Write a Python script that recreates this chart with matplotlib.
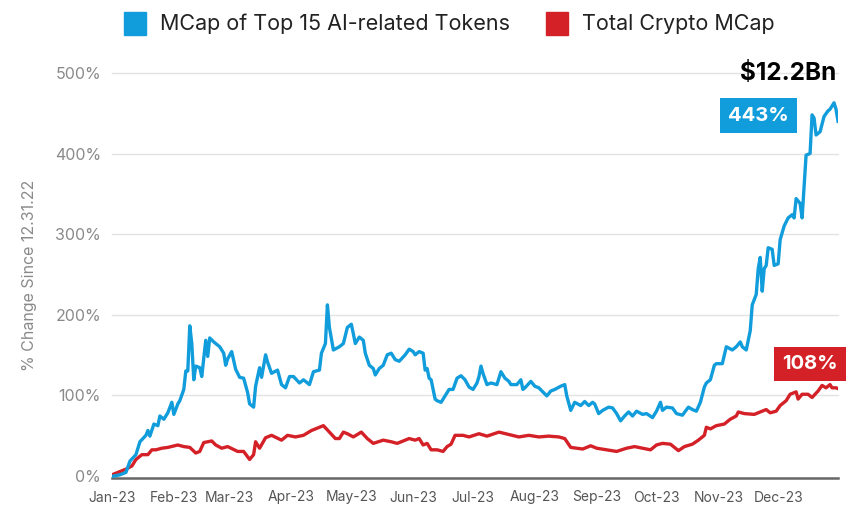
import numpy as np
import pandas as pd
import matplotlib
matplotlib.use("Agg")
import matplotlib.pyplot as plt
import matplotlib.dates as mdates
from matplotlib.patches import Rectangle

# day of 2023 (0 = Jan 1) and % change since 12.31.22
ai_days = [0, 4, 7, 9, 12, 14, 17, 18, 19, 21, 23, 24, 26, 28, 30, 31, 33, 34, 36, 37,
           38, 39, 40, 41, 42, 44, 45, 47, 48, 49, 51, 54, 56, 57, 58, 60, 62, 64, 66, 68,
           69, 71, 72, 74, 75, 77, 78, 80, 83, 85, 87, 89, 91, 94, 96, 99, 101, 104, 105, 107,
           108, 109, 111, 114, 116, 118, 120, 122, 124, 126, 127, 129, 131, 132, 134, 136, 138, 140, 142, 144,
           147, 149, 151, 152, 154, 156, 157, 158, 159, 160, 162, 163, 165, 167, 169, 171, 173, 175, 177, 179,
           181, 183, 184, 185, 186, 188, 190, 193, 195, 197, 199, 200, 203, 205, 206, 207, 210, 212, 214, 218,
           220, 222, 225, 227, 228, 230, 232, 235, 237, 239, 241, 242, 244, 246, 249, 251, 253, 255, 257, 259,
           261, 263, 266, 268, 271, 273, 275, 276, 278, 281, 283, 286, 289, 291, 293, 295, 297, 298, 300, 302,
           303, 306, 308, 311, 313, 315, 316, 318, 320, 321, 323, 324, 325, 326, 327, 328, 329, 331, 332, 334,
           335, 337, 339, 341, 342, 343, 345, 346, 347, 348, 350, 351, 352, 353, 355, 357, 359, 360, 362, 363, 364]
ai_pct = [-1, 1, 4, 18, 26, 42, 50, 56, 49, 64, 62, 74, 70, 78, 91, 76, 89, 93, 107, 130,
          130, 186, 164, 119, 136, 134, 123, 168, 148, 171, 166, 160, 152, 137, 145, 154, 132, 122, 121, 103,
          89, 85, 111, 134, 122, 150, 141, 127, 131, 113, 109, 123, 123, 115, 119, 113, 129, 131, 152, 164,
          212, 184, 156, 160, 164, 184, 188, 164, 172, 168, 152, 137, 133, 125, 133, 137, 150, 152, 144, 142,
          150, 157, 154, 150, 154, 152, 131, 133, 121, 119, 95, 93, 91, 99, 107, 107, 121, 124, 119, 110,
          107, 115, 123, 136, 127, 113, 115, 113, 129, 121, 117, 113, 113, 119, 107, 109, 117, 111, 109, 99,
          105, 107, 111, 113, 99, 81, 91, 87, 92, 87, 91, 89, 77, 81, 85, 84, 77, 68, 74, 79,
          74, 80, 76, 77, 72, 80, 91, 81, 85, 84, 77, 75, 85, 82, 80, 91, 110, 115, 119, 137,
          139, 139, 160, 156, 160, 166, 160, 156, 180, 212, 225, 257, 271, 229, 257, 261, 283, 281, 261, 263,
          293, 310, 320, 324, 320, 344, 338, 320, 358, 398, 400, 448, 444, 423, 427, 446, 453, 455, 463, 455, 440]

mkt_days = [0, 5, 7, 10, 12, 15, 18, 20, 22, 25, 28, 33, 36, 39, 42, 44, 46, 50, 52, 55,
            58, 63, 66, 69, 71, 72, 74, 77, 80, 85, 88, 92, 96, 100, 104, 106, 109, 112, 114, 116,
            118, 121, 125, 128, 131, 136, 140, 143, 146, 149, 152, 154, 156, 158, 160, 163, 166, 168, 170, 172,
            176, 179, 184, 188, 194, 199, 204, 209, 214, 219, 224, 227, 230, 233, 236, 240, 243, 248, 253, 258,
            262, 266, 270, 273, 276, 280, 284, 287, 291, 294, 297, 298, 300, 303, 307, 310, 313, 314, 317, 322,
            325, 328, 330, 333, 335, 338, 340, 343, 344, 346, 349, 351, 354, 356, 358, 360, 361, 363, 364]
mkt_pct = [1, 6, 8, 12, 20, 26, 26, 32, 32, 34, 35, 38, 36, 35, 28, 30, 41, 43, 38, 34,
           36, 30, 30, 20, 26, 42, 34, 47, 50, 44, 50, 48, 50, 56, 60, 62, 54, 46, 46, 54,
           52, 48, 54, 46, 40, 44, 42, 40, 43, 46, 44, 46, 38, 40, 32, 32, 30, 36, 39, 50,
           50, 48, 52, 49, 54, 51, 48, 50, 48, 49, 48, 46, 35, 34, 33, 37, 34, 32, 30, 34,
           36, 34, 32, 38, 40, 39, 31, 36, 39, 44, 50, 60, 58, 62, 64, 70, 74, 79, 77, 76,
           79, 82, 78, 80, 87, 93, 101, 104, 95, 101, 101, 97, 105, 112, 109, 113, 109, 109, 108]

y_ticks = [0, 100, 200, 300, 400, 500]
legend_labels = ["MCap of Top 15 AI-related Tokens", "Total Crypto MCap"]
ai_end_label = "443%"
mkt_end_label = "108%"
mcap_label = "$12.2Bn"

BLUE = "#119ddb"
RED = "#d42027"
W, H = 868, 532

plt.rcParams["font.family"] = ["Inter", "DejaVu Sans"]

start = pd.Timestamp("2023-01-01")
ai_dates = start + pd.to_timedelta(ai_days, unit="D")
mkt_dates = start + pd.to_timedelta(mkt_days, unit="D")

fig = plt.figure(figsize=(W / 100, H / 100), dpi=100)
ax = fig.add_axes([112 / W, 1 - 478 / H, 726 / W, 405 / H])

ax.plot(mkt_dates, mkt_pct, color=RED, lw=2.4, solid_joinstyle="round", zorder=3)
ax.plot(ai_dates, ai_pct, color=BLUE, lw=2.4, solid_joinstyle="round", zorder=4)

ax.set_xlim(start, pd.Timestamp("2023-12-31"))
ax.set_ylim(-3, 500)
ax.set_yticks(y_ticks)
ax.set_yticklabels([f"{v}%" for v in y_ticks])
ax.xaxis.set_major_locator(mdates.MonthLocator())
ax.xaxis.set_major_formatter(mdates.DateFormatter("%b-%y"))

for v in y_ticks[1:]:
    ax.axhline(v, color="#e3e3e3", lw=1, zorder=1, clip_on=False)

for s in ["top", "right", "left"]:
    ax.spines[s].set_visible(False)
ax.spines["bottom"].set_color("#666666")
ax.spines["bottom"].set_linewidth(1.8)
ax.tick_params(axis="y", length=0, pad=8, labelsize=11.5, labelcolor="#8a8a8a")
ax.tick_params(axis="x", length=0, pad=9, labelsize=10, labelcolor="#555555")
ax.set_ylabel("% Change Since 12.31.22", color="#8a8a8a", fontsize=11.5, labelpad=13)

# legend
fig.add_artist(Rectangle((124 / W, 1 - 35 / H), 22 / W, 23 / H, color=BLUE, transform=fig.transFigure))
fig.text(160 / W, 1 - 24 / H, legend_labels[0], fontsize=15.5, color="#222222", va="center")
fig.add_artist(Rectangle((546 / W, 1 - 35 / H), 22 / W, 23 / H, color=RED, transform=fig.transFigure))
fig.text(582 / W, 1 - 24 / H, legend_labels[1], fontsize=15.5, color="#222222", va="center")

# end labels
ax.text(0.997, 1.0, mcap_label, transform=ax.transAxes, ha="right", va="center",
        fontsize=17.5, fontweight="bold", color="black")
ax.text(0.890, 0.895, ai_end_label, transform=ax.transAxes, ha="center", va="center",
        fontsize=14.5, fontweight="bold", color="white",
        bbox=dict(boxstyle="square,pad=0.4", fc=BLUE, ec="none"))
ax.text(0.961, 0.281, mkt_end_label, transform=ax.transAxes, ha="center", va="center",
        fontsize=14.5, fontweight="bold", color="white", clip_on=False,
        bbox=dict(boxstyle="square,pad=0.4", fc=RED, ec="none"))

fig.savefig("out.png", dpi=100, facecolor="white")
